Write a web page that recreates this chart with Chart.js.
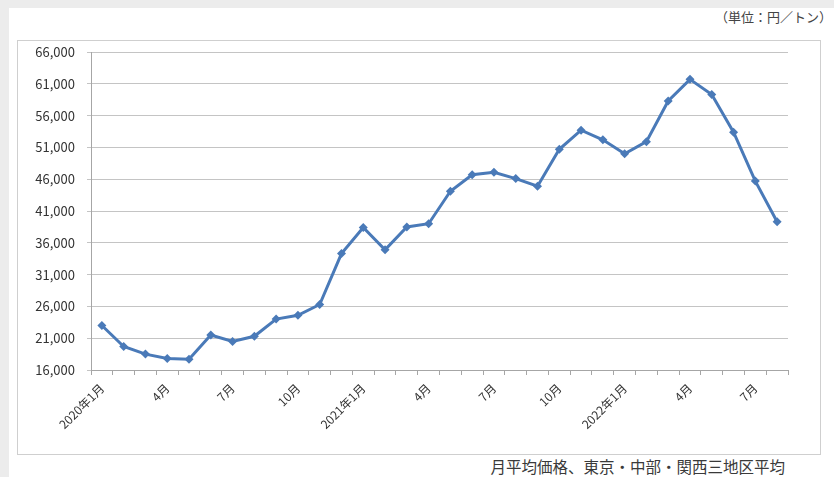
<!DOCTYPE html>
<html>
<head>
<meta charset="utf-8">
<script src="https://cdn.jsdelivr.net/npm/chart.js@4/dist/chart.umd.min.js"></script>
<style>
  html, body { margin: 0; padding: 0; }
  body { width: 834px; height: 477px; background: #ececec; position: relative; overflow: hidden;
         font-family: "Noto Sans CJK JP", sans-serif; }
  #sheet { position: absolute; left: 9px; top: 8px; right: 0; bottom: 0; background: #fff; }
  #unit { position: absolute; right: 2px; top: 8px; font-size: 13px; line-height: 18px; color: #444; }
  #box { position: absolute; left: 17px; top: 40px; width: 802px; height: 413px;
         border: 1px solid #cfcfcf; background: #fff; }
  #note { position: absolute; right: 49px; top: 456px; font-size: 15.5px; line-height: 20px; color: #3a3a3a; }
</style>
</head>
<body>
<div id="sheet"></div>
<div id="unit">（単位：円／トン）</div>
<div id="box"><canvas id="priceChart"></canvas></div>
<div id="note">月平均価格、東京・中部・関西三地区平均</div>

<script>
// 月ラベル (2020年1月〜2022年8月)
const months = [
  '2020年1月', '2月', '3月', '4月', '5月', '6月', '7月', '8月', '9月', '10月', '11月', '12月',
  '2021年1月', '2月', '3月', '4月', '5月', '6月', '7月', '8月', '9月', '10月', '11月', '12月',
  '2022年1月', '2月', '3月', '4月', '5月', '6月', '7月', '8月'
];

// 月平均価格 (円/トン)
const prices = [
  23000, 19700, 18500, 17800, 17700, 21500, 20500, 21300, 24000, 24600, 26300, 34300,
  38400, 34900, 38500, 39000, 44100, 46700, 47100, 46100, 44900, 50700, 53700, 52200,
  50000, 51900, 58300, 61700, 59300, 53400, 45700, 39300
];

const yMin = 16000;
const yMax = 66000;
const yStep = 5000;

const box = document.getElementById('box');
const canvas = document.getElementById('priceChart');
canvas.style.width = box.clientWidth + 'px';
canvas.style.height = box.clientHeight + 'px';

Chart.defaults.font.family = "'Noto Sans CJK JP', sans-serif";
Chart.defaults.color = '#333333';

new Chart(canvas.getContext('2d'), {
    type: 'line',
    data: {
        labels: months,
        datasets: [{
            data: prices,
            borderColor: '#4a7ab8',
            backgroundColor: '#4a7ab8',
            borderWidth: 3,
            tension: 0,
            pointStyle: 'rectRot',
            pointRadius: 4.5,
            pointBorderWidth: 0,
            pointBackgroundColor: '#4a7ab8'
        }]
    },
    options: {
        responsive: false,
        animation: false,
        layout: { padding: { top: 11, right: 32, bottom: 0, left: 0 } },
        plugins: {
            legend: { display: false },
            tooltip: { enabled: false }
        },
        scales: {
            x: {
                offset: true,
                grid: {
                    offset: true,
                    drawOnChartArea: false,
                    drawTicks: true,
                    tickLength: 5,
                    color: '#a6a6a6'
                },
                border: { color: '#a6a6a6' },
                ticks: {
                    autoSkip: false,
                    maxRotation: 45,
                    minRotation: 45,
                    padding: 6,
                    font: { size: 12 },
                    callback: function(v, i) { return i % 3 === 0 ? months[i] : ''; }
                },
                afterFit: function(scale) { scale.height = 84; }
            },
            y: {
                min: yMin,
                max: yMax,
                grid: { color: '#c4c4c4', tickLength: 4, lineWidth: 1 },
                border: { color: '#a6a6a6' },
                ticks: {
                    stepSize: yStep,
                    padding: 12,
                    font: { size: 13 },
                    callback: function(v) { return v.toLocaleString('en-US'); }
                },
                afterFit: function(scale) {
                    scale.width = 73;
                    scale.paddingTop = 0;
                    scale.paddingBottom = 0;
                }
            }
        }
    }
});
</script>
</body>
</html>
